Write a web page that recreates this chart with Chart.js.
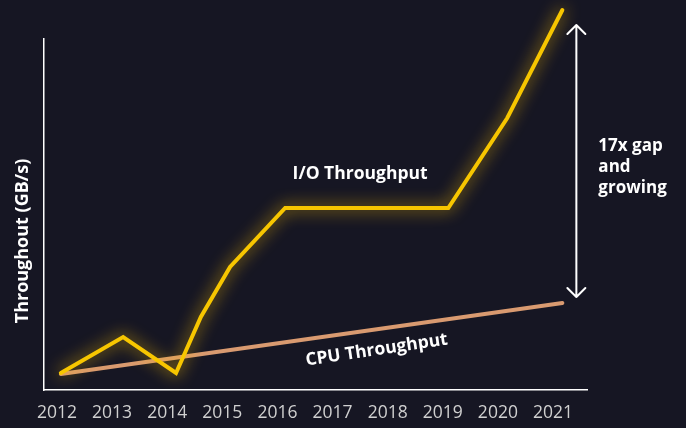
<!DOCTYPE html>
<html>
<head>
<meta charset="utf-8">
<script src="https://cdn.jsdelivr.net/npm/chart.js@4.4.0/dist/chart.umd.min.js"></script>
<style>
    html, body { margin: 0; padding: 0; background: #161623; }
    #wrap { width: 686px; height: 428px; }
</style>
</head>
<body>
<div id="wrap"><canvas id="myChart" width="686" height="428"></canvas></div>
<script>
// tick labels on the x axis
const years = [2012, 2013, 2014, 2015, 2016, 2017, 2018, 2019, 2020, 2021];

// I/O throughput (x in years, y in rough GB/s units)
const ioX = [2012.07, 2013.2, 2014.16, 2014.61, 2015.14, 2016.14, 2019.1, 2020.17, 2021.17];
const ioY = [1.7, 5.3, 1.7, 7.3, 12.3, 18.2, 18.2, 27.2, 38.0];

// CPU throughput
const cpuX = [2012.07, 2021.17];
const cpuY = [1.6, 8.7];

const fontFam = "'Open Sans', 'Noto Sans', sans-serif";

function toPoints(xs, ys) {
    return xs.map((x, i) => ({ x: x, y: ys[i] }));
}

// glow under the I/O line
const glowPlugin = {
    id: 'glow',
    beforeDatasetDraw(chart, args) {
        if (args.index !== 0) return;
        const ctx = chart.ctx;
        ctx.save();
        ctx.shadowColor = 'rgba(255, 196, 0, 0.9)';
        ctx.shadowBlur = 16;
    },
    afterDatasetDraw(chart, args) {
        if (args.index !== 0) return;
        chart.ctx.restore();
    }
};

// labels, y title and the gap arrow
const notesPlugin = {
    id: 'notes',
    afterDraw(chart) {
        const ctx = chart.ctx;
        const xs = chart.scales.x;
        const ys = chart.scales.y;
        ctx.save();
        ctx.fillStyle = '#ffffff';
        ctx.textAlign = 'center';
        ctx.textBaseline = 'middle';

        // y axis title
        ctx.save();
        ctx.translate(23, 241);
        ctx.rotate(-Math.PI / 2);
        ctx.font = 'bold 18px ' + fontFam;
        ctx.fillText('Throughout (GB/s)', 0, 0);
        ctx.restore();

        // series labels
        ctx.font = 'bold 17.5px ' + fontFam;
        ctx.fillText('I/O Throughput', xs.getPixelForValue(2017.5), ys.getPixelForValue(21.6));

        ctx.save();
        ctx.translate(xs.getPixelForValue(2017.8), ys.getPixelForValue(4.0));
        ctx.rotate(-8.5 * Math.PI / 180);
        ctx.fillText('CPU Throughput', 0, 0);
        ctx.restore();

        // double arrow between the two end values
        const ax = xs.getPixelForValue(ioX[ioX.length - 1]) + 14;
        const top = ys.getPixelForValue(ioY[ioY.length - 1]) + 15;
        const bot = ys.getPixelForValue(cpuY[cpuY.length - 1]) - 6;
        ctx.strokeStyle = '#ffffff';
        ctx.lineWidth = 2;
        ctx.lineCap = 'round';
        ctx.lineJoin = 'round';
        ctx.beginPath();
        ctx.moveTo(ax, top);
        ctx.lineTo(ax, bot);
        ctx.moveTo(ax - 9, top + 9);
        ctx.lineTo(ax, top);
        ctx.lineTo(ax + 9, top + 9);
        ctx.moveTo(ax - 9, bot - 9);
        ctx.lineTo(ax, bot);
        ctx.lineTo(ax + 9, bot - 9);
        ctx.stroke();

        const mid = (top + bot) / 2;
        ctx.textAlign = 'left';
        ctx.font = 'bold 17px ' + fontFam;
        ctx.fillText('17x gap', ax + 22, mid - 15);
        ctx.fillText('and', ax + 22, mid + 6);
        ctx.fillText('growing', ax + 22, mid + 27);
        ctx.restore();
    }
};

let ctx = document.getElementById('myChart').getContext('2d');

let chart = new Chart(ctx, {
    type: 'line',
    data: {
        datasets: [{
            label: 'I/O Throughput',
            data: toPoints(ioX, ioY),
            borderColor: '#f7c600',
            borderWidth: 4,
            borderCapStyle: 'round',
            borderJoinStyle: 'miter',
            pointRadius: 0,
            tension: 0,
            clip: false
        }, {
            label: 'CPU Throughput',
            data: toPoints(cpuX, cpuY),
            borderColor: '#d99a70',
            borderWidth: 4,
            borderCapStyle: 'round',
            pointRadius: 0,
            tension: 0,
            clip: false
        }]
    },
    options: {
        responsive: false,
        animation: false,
        layout: {
            padding: { left: 44, right: 99, top: 39, bottom: 0 }
        },
        plugins: {
            legend: { display: false },
            tooltip: { enabled: false }
        },
        scales: {
            x: {
                type: 'linear',
                min: 2011.764,
                max: 2021.617,
                afterBuildTicks: axis => {
                    axis.ticks = years.map(v => ({ value: v }));
                },
                afterFit: scale => { scale.height = 38; },
                grid: { display: false, drawTicks: false },
                border: { display: true, color: '#ffffff', width: 1.5 },
                ticks: {
                    color: '#d0d0d0',
                    padding: 13,
                    autoSkip: false,
                    maxRotation: 0,
                    font: { family: fontFam, size: 17.5 },
                    callback: v => String(v)
                }
            },
            y: {
                min: 0,
                max: 35.1,
                afterFit: scale => { scale.width = 0; },
                grid: { display: false, drawTicks: false },
                border: { display: true, color: '#ffffff', width: 1.5 },
                ticks: { display: false }
            }
        }
    },
    plugins: [glowPlugin, notesPlugin]
});
</script>
</body>
</html>
